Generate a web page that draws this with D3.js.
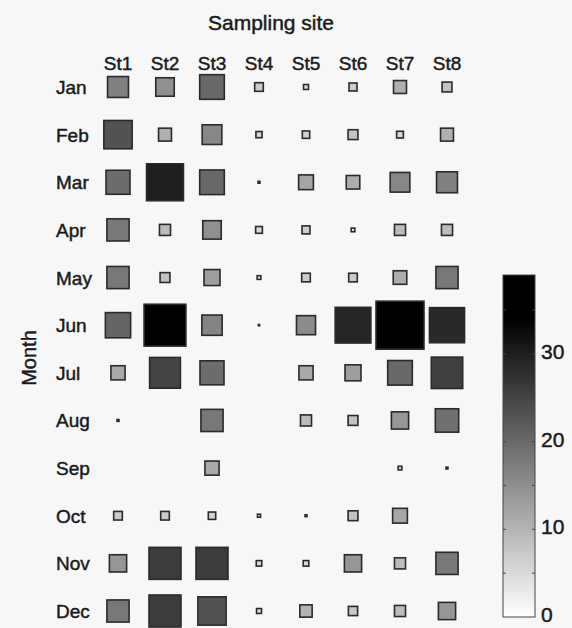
<!DOCTYPE html>
<html>
<head>
<meta charset="utf-8">
<script src="https://cdn.jsdelivr.net/npm/d3@7"></script>
<style>
  body { margin: 0; background: #f7f7f7; }
  text { font-family: "Liberation Sans", Arial, sans-serif; fill: #1a1a1a; stroke: #1a1a1a; stroke-width: 0.45px; }
</style>
</head>
<body>
<div class="bubbleGrid"></div>
<script>
var width = 572,
    height = 628;

// months (rows) and sampling sites (columns)
var months = ["Jan", "Feb", "Mar", "Apr", "May", "Jun", "Jul", "Aug", "Sep", "Oct", "Nov", "Dec"];
var sites = ["St1", "St2", "St3", "St4", "St5", "St6", "St7", "St8"];

// values per site, Jan..Dec (null = nothing drawn)
var st1 = [17, 23, 19.5, 18, 18, 20.5, 11.5, 1.5, null, 7, 14, 18];
var st2 = [15, 10.5, 30, 9, 8, 34, 25, null, null, 7, 26, 26];
var st3 = [20, 16, 20, 15, 13, 16.5, 19.5, 18, 11.5, 6, 26, 23];
var st4 = [7, 5, 1.5, 5.5, 3, 1, null, null, null, 2.5, 4.5, 4];
var st5 = [4, 6, 12, 6.5, 7, 15.5, 11.5, 9, null, 1.5, 4.5, 10];
var st6 = [6.5, 8, 11, 3, 7, 29, 13, 8, null, 8, 14, 7.5];
var st7 = [10.5, 5.5, 16, 9, 11, 39, 20, 14, 3, 12, 9, 9];
var st8 = [8, 10.5, 17, 9, 18, 28.5, 25.5, 19, 1.5, null, 18, 14];

var colorTicks = [0, 10, 20, 30];
var minorTicks = [5, 10, 15, 20, 25, 30, 35];
var maxValue = 39;

var columns = [st1, st2, st3, st4, st5, st6, st7, st8];

// flatten into cells
var cells = [];
columns.forEach(function(col, i) {
  col.forEach(function(v, j) {
    if (v !== null) cells.push({ site: sites[i], month: months[j], value: v });
  });
});

var x = d3.scalePoint().domain(sites).range([118, 447]);
var y = d3.scalePoint().domain(months).range([87, 611]);
var side = d3.scaleLinear().domain([0, maxValue]).range([0, 48]);
var color = d3.scaleLinear().domain([0, 34]).range(["#ffffff", "#000000"]).clamp(true);

var svg = d3.select(".bubbleGrid")
  .append("svg")
  .attr("width", width)
  .attr("height", height);

// title and axis labels
svg.append("text")
  .attr("x", 271)
  .attr("y", 30)
  .attr("text-anchor", "middle")
  .attr("font-size", "21px")
  .text("Sampling site");

svg.append("text")
  .attr("transform", "translate(36,358) rotate(-90)")
  .attr("text-anchor", "middle")
  .attr("font-size", "20px")
  .text("Month");

svg.selectAll(".siteLabel")
  .data(sites)
  .enter()
  .append("text")
  .attr("class", "siteLabel")
  .attr("x", function(d) { return x(d); })
  .attr("y", 70)
  .attr("text-anchor", "middle")
  .attr("font-size", "19px")
  .text(function(d) { return d; });

svg.selectAll(".monthLabel")
  .data(months)
  .enter()
  .append("text")
  .attr("class", "monthLabel")
  .attr("x", 56)
  .attr("y", function(d) { return y(d) + 7; })
  .attr("font-size", "19px")
  .text(function(d) { return d; });

// squares
svg.selectAll("rect.cell")
  .data(cells)
  .enter()
  .append("rect")
  .attr("class", "cell")
  .attr("x", function(d) { return x(d.site) - side(d.value) / 2; })
  .attr("y", function(d) { return y(d.month) - side(d.value) / 2; })
  .attr("width", function(d) { return side(d.value); })
  .attr("height", function(d) { return side(d.value); })
  .attr("fill", function(d) { return color(d.value); })
  .attr("stroke", "#2a2a2a")
  .attr("stroke-width", 1.6);

// colorbar
var barX = 503, barW = 32;
var cy = d3.scaleLinear().domain([0, maxValue]).range([617, 275]);

var grad = svg.append("defs").append("linearGradient")
  .attr("id", "cbar")
  .attr("x1", 0).attr("y1", 1)
  .attr("x2", 0).attr("y2", 0);

d3.range(0, maxValue + 1, 1).forEach(function(v) {
  grad.append("stop")
    .attr("offset", v / maxValue)
    .attr("stop-color", color(v));
});

svg.append("rect")
  .attr("x", barX)
  .attr("y", cy(maxValue))
  .attr("width", barW)
  .attr("height", cy(0) - cy(maxValue))
  .attr("fill", "url(#cbar)")
  .attr("stroke", "#444")
  .attr("stroke-width", 1);

var tickG = svg.append("g");
minorTicks.forEach(function(t) {
  tickG.append("line")
    .attr("x1", barX).attr("x2", barX + 3)
    .attr("y1", cy(t)).attr("y2", cy(t))
    .attr("stroke", "#444");
  tickG.append("line")
    .attr("x1", barX + barW - 3).attr("x2", barX + barW)
    .attr("y1", cy(t)).attr("y2", cy(t))
    .attr("stroke", "#444");
});

svg.selectAll(".cbLabel")
  .data(colorTicks)
  .enter()
  .append("text")
  .attr("class", "cbLabel")
  .attr("x", 541)
  .attr("y", function(d) { return cy(d) + 5; })
  .attr("font-size", "21px")
  .text(function(d) { return d; });
</script>
</body>
</html>
